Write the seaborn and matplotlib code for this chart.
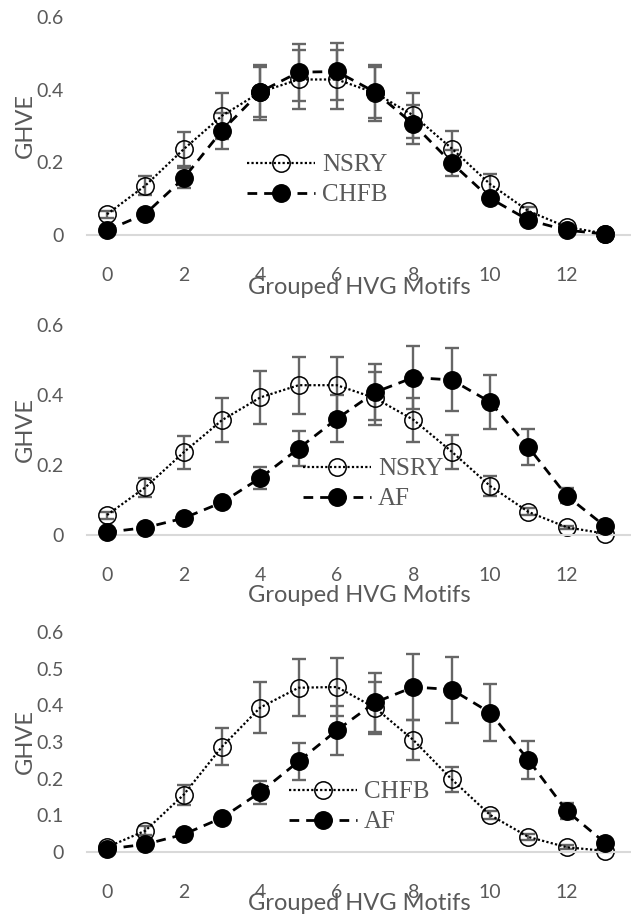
import numpy as np
import pandas as pd
import matplotlib
matplotlib.use("Agg")
import matplotlib.pyplot as plt
from matplotlib.lines import Line2D
from matplotlib.font_manager import FontProperties
import seaborn as sns

# ---------------- data ----------------
motifs = list(range(14))
xtick_vals = [0, 2, 4, 6, 8, 10, 12]

nsry = [0.057, 0.136, 0.236, 0.328, 0.393, 0.428, 0.428, 0.391, 0.329, 0.238, 0.140, 0.066, 0.022, 0.004]
nsry_err = [0.010, 0.026, 0.047, 0.063, 0.076, 0.082, 0.082, 0.076, 0.063, 0.048, 0.028, 0.010, 0.005, 0.002]

chfb = [0.013, 0.058, 0.156, 0.287, 0.394, 0.448, 0.450, 0.393, 0.305, 0.198, 0.101, 0.041, 0.013, 0.003]
chfb_err = [0.005, 0.012, 0.028, 0.050, 0.069, 0.078, 0.078, 0.070, 0.054, 0.035, 0.012, 0.008, 0.005, 0.002]

af = [0.008, 0.021, 0.048, 0.093, 0.163, 0.247, 0.332, 0.408, 0.450, 0.443, 0.380, 0.251, 0.112, 0.025]
af_err = [0.003, 0.005, 0.007, 0.010, 0.032, 0.050, 0.067, 0.080, 0.090, 0.090, 0.077, 0.052, 0.021, 0.005]

yticks_a = [0, 0.2, 0.4, 0.6]
ytick_labels_a = ["0", "0.2", "0.4", "0.6"]
yticks_b = [0, 0.1, 0.2, 0.3, 0.4, 0.5, 0.6]
ytick_labels_b = ["0", "0.1", "0.2", "0.3", "0.4", "0.5", "0.6"]

x_label = "Grouped HVG Motifs"
y_label = "GHVE"

frames = []
for name, vals, errs in [("NSRY", nsry, nsry_err), ("CHFB", chfb, chfb_err), ("AF", af, af_err)]:
    frames.append(pd.DataFrame({"motif": motifs, "ghve": vals, "err": errs, "series": name}))
df = pd.concat(frames, ignore_index=True)

# ---------------- style ----------------
sns.set_theme(style="white")
plt.rcParams["font.family"] = ["Lato", "DejaVu Sans"]

GRAY_TXT = "#595959"
ERR_COL = "#666666"
MS = 12.5

# first series of a panel: open circles + dotted line; second: filled + dashed
pos_styles = [
    dict(linestyle=(0, (1, 1)), linewidth=1.6, marker="o", markersize=MS,
         markerfacecolor="none", markeredgecolor="black", markeredgewidth=1.1),
    dict(linestyle=(0, (3.5, 2.5)), linewidth=2.0, marker="o", markersize=MS,
         markerfacecolor="black", markeredgecolor="black", markeredgewidth=1.1),
]

W, H = 631, 919
fig = plt.figure(figsize=(W / 100, H / 100), dpi=100)

AX_L, AX_R = 87, 631
X0_PX = 107
UNIT = (AX_R - AX_L) / 14.2
xlim = (-(X0_PX - AX_L) / UNIT, (AX_R - X0_PX) / UNIT)

panels = [
    dict(pair=("NSRY", "CHFB"), top=17, bottom=235, yt=yticks_a, ytl=ytick_labels_a,
         leg_x=247, leg_y=180, xlab_y=288),
    dict(pair=("NSRY", "AF"), top=325, bottom=535, yt=yticks_a, ytl=ytick_labels_a,
         leg_x=303, leg_y=484, xlab_y=596),
    dict(pair=("CHFB", "AF"), top=632, bottom=852, yt=yticks_b, ytl=ytick_labels_b,
         leg_x=289, leg_y=807, xlab_y=904),
]

for p in panels:
    ax = fig.add_axes([AX_L / W, 1 - p["bottom"] / H, (AX_R - AX_L) / W, (p["bottom"] - p["top"]) / H])
    for name in p["pair"]:
        sub = df[df["series"] == name]
        ax.errorbar(sub["motif"], sub["ghve"], yerr=sub["err"], fmt="none", ecolor=ERR_COL,
                    elinewidth=1.7, capsize=4.8, capthick=1.7, zorder=1.5, clip_on=False)
    for i, name in enumerate(p["pair"]):
        sub = df[df["series"] == name]
        sns.lineplot(data=sub, x="motif", y="ghve", ax=ax, color="black", errorbar=None,
                     legend=False, zorder=2 + i, clip_on=False, **pos_styles[i])
    ax.set_xlim(*xlim)
    ax.set_ylim(0, 0.6)
    ax.set_xticks(xtick_vals)
    ax.set_xticklabels([str(v) for v in xtick_vals])
    ax.set_yticks(p["yt"])
    ax.set_yticklabels(p["ytl"])
    ax.tick_params(axis="x", length=0, pad=23, labelsize=14, labelcolor=GRAY_TXT)
    ax.tick_params(axis="y", length=0, pad=17, labelsize=14, labelcolor=GRAY_TXT)
    for s in ["top", "right", "left"]:
        ax.spines[s].set_visible(False)
    ax.spines["bottom"].set_color("#d9d9d9")
    ax.spines["bottom"].set_linewidth(1.5)
    ax.set_facecolor("none")
    hgt = p["bottom"] - p["top"]
    ax.set_xlabel(x_label, fontsize=17, color=GRAY_TXT, va="center")
    ax.xaxis.set_label_coords(0.5, (p["bottom"] - p["xlab_y"]) / hgt)
    ax.set_ylabel(y_label, fontsize=17, color=GRAY_TXT, va="center", ha="center")
    ax.yaxis.set_label_coords((25 - AX_L) / (AX_R - AX_L), 0.5)

    handles = [Line2D([], [], color="black", **pos_styles[i]) for i in range(2)]
    ax.legend(handles, list(p["pair"]), loc="center left",
              bbox_to_anchor=(p["leg_x"] / W, 1 - p["leg_y"] / H),
              bbox_transform=fig.transFigure, frameon=False,
              prop=FontProperties(family="Liberation Serif", size=18),
              labelcolor=GRAY_TXT, handlelength=2.7, handletextpad=0.3,
              labelspacing=0.3, borderpad=0, borderaxespad=0, numpoints=1)

fig.savefig("out.png", dpi=100)
